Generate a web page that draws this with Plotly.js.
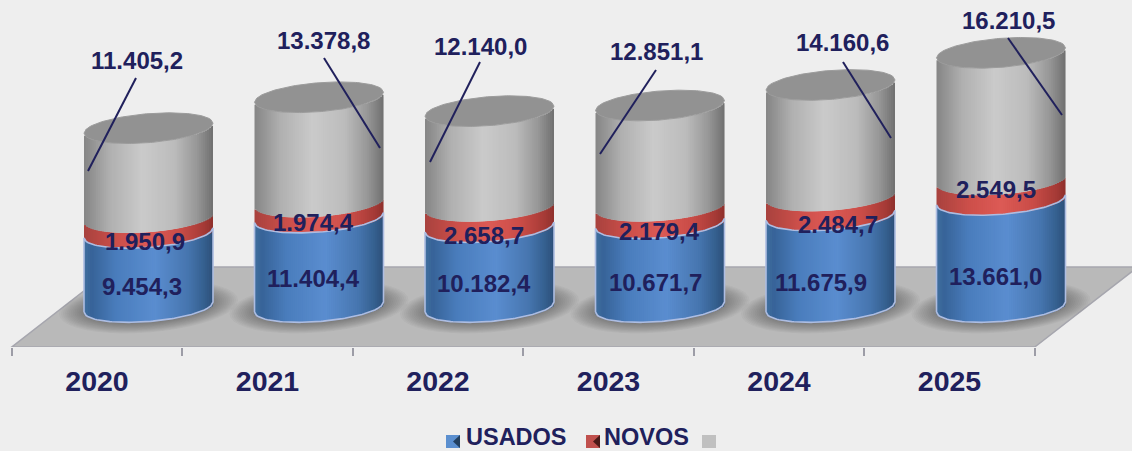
<!DOCTYPE html>
<html><head><meta charset="utf-8">
<script src="https://cdn.plot.ly/plotly-3.0.1.min.js"></script>
<style>html,body{margin:0;padding:0;background:#eeeeee;overflow:hidden}#c{width:1132px;height:451px}</style>
</head><body><div id="c"></div>
<script>
// ---- data ----
const years = ['2020','2021','2022','2023','2024','2025'];
const usados = [9454.3,11404.4,10182.4,10671.7,11675.9,13661.0];
const novos  = [1950.9,1974.4,2658.7,2179.4,2484.7,2549.5];
const total  = [11405.2,13378.8,12140.0,12851.1,14160.6,16210.5];
// hand-placed label anchors in the original (pixels)
const usadosLabelPos = [[142,286],[313,278],[484,283],[655,282],[821,282],[995,276]];
const novosLabelPos  = [[145,241],[313,222],[484,235],[659,231],[838,224],[996,190]];
const totalLabelPos  = [[137,60],[323.5,41],[480,47],[656,51],[842,42],[1008.5,21]];
const leaders = [[136,78,88,171],[324,58,380,148],[480,62,430,162],[656,70,600,154],[843,62,891,138],[1008,38,1062,115]];

// ---- geometry of the pseudo-3D view ----
const W=1132,H=451,AXIS=347;
const catPx=170.5, x0Px=97;
const pxPerUnit=0.00784;
const yMax=AXIS/pxPerUnit;
const px2cat=p=>p/catPx;
const px2val=p=>p/pxPerUnit;
const depthX=px2cat(51.5), baseLift=40;
const A=64.5,B=14.5,TILT=5; // cylinder half width, ellipse half height, tilt (pixels)
const N=64;
const NAVY='#20205c';
const fx=p=>p/W, fy=p=>1-p/AXIS;

function frontLift(u){return TILT*u-B*Math.sqrt(Math.max(0,1-u*u));}
function backLift(u){return TILT*u+B*Math.sqrt(Math.max(0,1-u*u));}
function hex(c){return [1,3,5].map(i=>parseInt(c.substr(i,2),16));}
function shade(stops,t){
  for(let i=1;i<stops.length;i++){ if(t<=stops[i][0]){
    const a=stops[i-1],b=stops[i],f=(t-a[0])/(b[0]-a[0]);
    const p=hex(a[1]),q=hex(b[1]);
    return 'rgb('+p.map((v,k)=>Math.round(v+(q[k]-v)*f)).join(',')+')';
  }}
  return stops[stops.length-1][1];
}
const blueStops=[[0,'#41709f'],[.06,'#376398'],[.25,'#4a7dbd'],[.55,'#5a8dd0'],[.8,'#4776b0'],[.93,'#35608f'],[1,'#2d4f78']];
const redStops=[[0,'#a8423e'],[.25,'#cc4f4a'],[.5,'#dc5a55'],[.75,'#c94c47'],[.93,'#a53a36'],[1,'#8f302c']];
const grayStops=[[0,'#858585'],[.2,'#b0b0b0'],[.45,'#cacaca'],[.7,'#bcbcbc'],[.88,'#969696'],[1,'#6f6f6f']];

const traces=[];
const usadosBase=usados.map(()=>px2val(baseLift));
const novosBase=usados.map((v,i)=>usadosBase[i]+v);
const totalBase=novos.map((v,i)=>novosBase[i]+v);
const series=[[usados,usadosBase,blueStops,'USADOS'],[novos,novosBase,redStops,'NOVOS'],[total,totalBase,grayStops,'']];
const stripW=2/N*px2cat(A);
const overlap=px2cat(1.6);
series.forEach(([vals,base,stops,name])=>{
  for(let j=0;j<N;j++){
    const u=-1+(j+.5)*2/N;
    const extra=(j===N-1)?0:overlap;
    traces.push({type:'bar',name,showlegend:false,hoverinfo:'skip',
      x:years.map((_,i)=>i+depthX+u*px2cat(A)+extra/2),
      y:vals,
      base:base.map(b=>b+px2val(frontLift(u))),
      width:stripW+extra,
      marker:{color:shade(stops,(u+1)/2),line:{width:0}}});
  }
});
// outline of the blue segments and the top caps
const arcU=[];for(let k=0;k<=60;k++)arcU.push(-1+k/30);
years.forEach((_,i)=>{
  const cx=i+depthX;
  const ox=[],oy=[];
  arcU.forEach(u=>{ox.push(cx+u*px2cat(A));oy.push(usadosBase[i]+px2val(frontLift(u)));});
  [...arcU].reverse().forEach(u=>{ox.push(cx+u*px2cat(A));oy.push(novosBase[i]+px2val(frontLift(u)));});
  ox.push(ox[0]);oy.push(oy[0]);
  traces.push({type:'scatter',mode:'lines',x:ox,y:oy,showlegend:false,hoverinfo:'skip',cliponaxis:false,
    line:{color:'#adbde2',width:1.6}});
  const capBase=totalBase[i]+total[i];
  const cxs=[],cys=[];
  arcU.forEach(u=>{cxs.push(cx+u*px2cat(A));cys.push(capBase+px2val(frontLift(u)));});
  [...arcU].reverse().forEach(u=>{cxs.push(cx+u*px2cat(A));cys.push(capBase+px2val(backLift(u)));});
  traces.push({type:'scatter',mode:'lines',x:cxs,y:cys,fill:'toself',fillcolor:'#929292',showlegend:false,hoverinfo:'skip',
    line:{color:'#9c9c9c',width:1}});
});

const shapes=[];
// floor
const fl=-0.5, fr=5.5;
const floorDx=px2cat(103), floorDy=px2val(80);
shapes.push({type:'path',layer:'below',xref:'x',yref:'y',
  path:`M${fl},0 L${fr},0 L${fr+floorDx},${floorDy} L${fl+floorDx},${floorDy} Z`,
  fillcolor:'#b9b9b9',line:{color:'#a6a6ae',width:1.5}});
// soft shadows under the cylinders (tilted ellipses)
years.forEach((_,i)=>{
  const cx=i+depthX;
  for(let k=0;k<14;k++){
    const a=A+25-k*1.95, b=B+11-k*0.75;
    let p='';
    for(let t=0;t<40;t++){
      const th=t/40*2*Math.PI;
      const dx=a*Math.cos(th), dy=TILT/A*dx+b*Math.sin(th)+baseLift;
      p+=(t?'L':'M')+(cx+px2cat(dx))+','+px2val(dy)+' ';
    }
    shapes.push({type:'path',layer:'below',xref:'x',yref:'y',path:p+'Z',
      fillcolor:'rgba(40,40,40,0.03)',line:{width:0}});
  }
});
// leader lines
leaders.forEach(l=>shapes.push({type:'line',layer:'above',xref:'paper',yref:'paper',
  x0:fx(l[0]),y0:fy(l[1]),x1:fx(l[2]),y1:fy(l[3]),line:{color:NAVY,width:2}}));

const fmt=v=>{const s=v.toFixed(1).split('.');return s[0].replace(/\B(?=(\d{3})+$)/g,'.')+','+s[1];};
const annotations=[];
[[usados,usadosLabelPos],[novos,novosLabelPos],[total,totalLabelPos]].forEach(([vals,pos])=>{
  vals.forEach((v,i)=>annotations.push({xref:'paper',yref:'paper',x:fx(pos[i][0]),y:fy(pos[i][1]),
    text:'<b>'+fmt(v)+'</b>',showarrow:false,xanchor:'center',yanchor:'middle',
    font:{family:'Liberation Sans, Arial, sans-serif',size:24,color:NAVY}}));
});
// legend row
const legendItems=[['USADOS',446,463.5,'#5b8fcf','#23405f'],['NOVOS',586,601.5,'#c0504d','#4a1a18'],['',702,0,'#c0c0c0','#c0c0c0']];
legendItems.forEach(([t,sx,tx,c1,c2])=>{
  shapes.push({type:'rect',xref:'paper',yref:'paper',x0:fx(sx),x1:fx(sx+14),y0:fy(435),y1:fy(448),fillcolor:c1,line:{width:0}});
  if(c1!==c2) shapes.push({type:'path',xref:'paper',yref:'paper',
    path:`M${fx(sx+14)},${fy(435)} L${fx(sx+7)},${fy(441.5)} L${fx(sx+14)},${fy(448)} Z`,fillcolor:c2,line:{width:0}});
  if(t) annotations.push({xref:'paper',yref:'paper',x:fx(tx),y:fy(437),text:'<b>'+t+'</b>',showarrow:false,
    xanchor:'left',yanchor:'middle',font:{family:'Liberation Sans, Arial, sans-serif',size:23.5,color:NAVY}});
});

const bounds=[-0.5,0.5,1.5,2.5,3.5,4.5,5.5];
const layout={
  width:W,height:H,autosize:false,
  paper_bgcolor:'#eeeeee',plot_bgcolor:'#eeeeee',
  margin:{l:0,r:0,t:0,b:H-AXIS,pad:0},
  barmode:'overlay',showlegend:false,
  xaxis:{type:'linear',range:[-x0Px/catPx,(W-x0Px)/catPx],fixedrange:true,showgrid:false,zeroline:false,showline:false,
    tickmode:'array',tickvals:years.map((_,i)=>i),ticktext:years,ticks:'',ticklabelstandoff:14,
    tickfont:{family:'Liberation Sans, Arial, sans-serif',size:28.5,color:NAVY,weight:700},
    minor:{tickmode:'array',tickvals:bounds,ticks:'outside',ticklen:8,tickwidth:2,tickcolor:'#9c9ca6',showgrid:false}},
  yaxis:{range:[0,yMax],visible:false,fixedrange:true},
  shapes,annotations
};
Plotly.newPlot('c',traces,layout,{displayModeBar:false,staticPlot:true});
</script></body></html>
